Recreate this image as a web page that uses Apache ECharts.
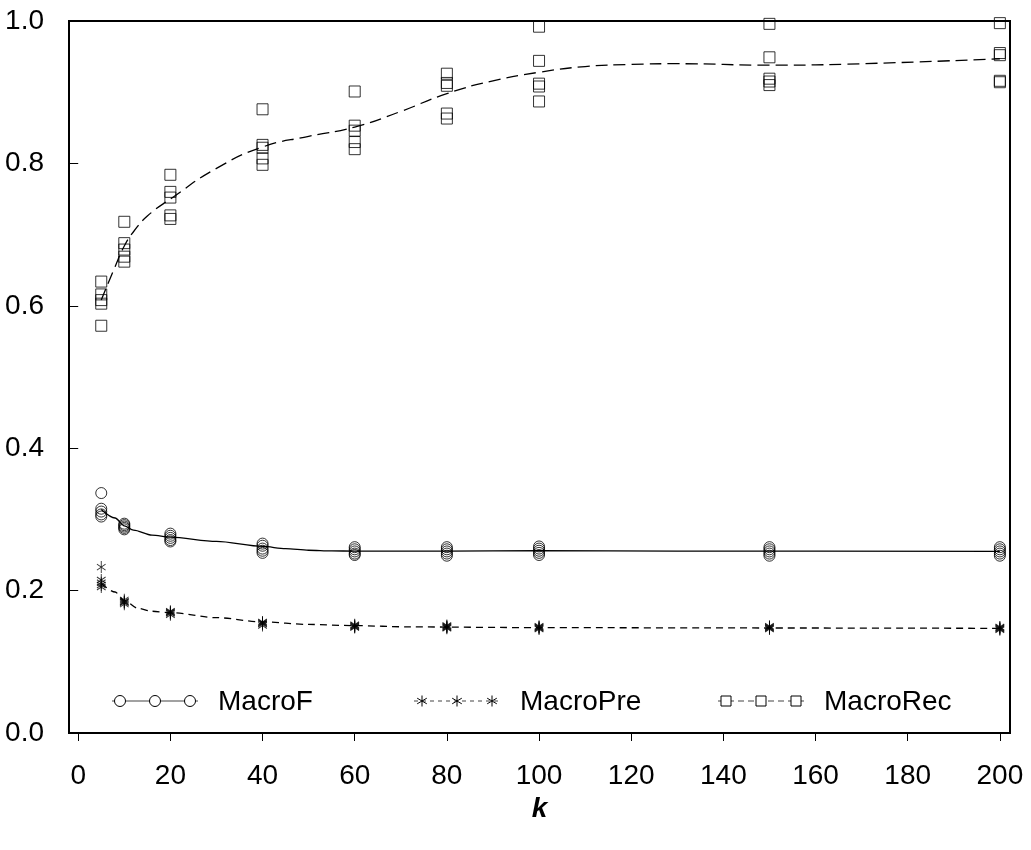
<!DOCTYPE html>
<html>
<head>
<meta charset="utf-8">
<script src="https://cdn.jsdelivr.net/npm/echarts@6/dist/echarts.min.js"></script>
<style>
  html, body { margin: 0; padding: 0; background: #fff; }
  #chart { width: 1031px; height: 850px; }
</style>
</head>
<body>
<div id="chart"></div>
<script>
// Neighbourhood size k used in each run
const kValues = [5, 10, 20, 40, 60, 80, 100, 150, 200];

// Five runs per k, one row per entry of kValues
const macroFRuns = [
  [0.337, 0.315, 0.311, 0.307, 0.304],
  [0.294, 0.292, 0.290, 0.288, 0.286],
  [0.280, 0.277, 0.274, 0.271, 0.269],
  [0.266, 0.263, 0.259, 0.256, 0.253],
  [0.261, 0.258, 0.255, 0.252, 0.250],
  [0.261, 0.258, 0.255, 0.252, 0.249],
  [0.262, 0.259, 0.256, 0.253, 0.250],
  [0.261, 0.258, 0.255, 0.252, 0.249],
  [0.261, 0.258, 0.255, 0.252, 0.249]
];
const macroPreRuns = [
  [0.233, 0.215, 0.211, 0.208, 0.205],
  [0.187, 0.185, 0.184, 0.183, 0.181],
  [0.171, 0.170, 0.169, 0.168, 0.166],
  [0.156, 0.155, 0.154, 0.153, 0.151],
  [0.152, 0.151, 0.150, 0.149, 0.148],
  [0.151, 0.150, 0.149, 0.148, 0.147],
  [0.150, 0.149, 0.148, 0.147, 0.146],
  [0.150, 0.149, 0.148, 0.147, 0.146],
  [0.149, 0.148, 0.147, 0.146, 0.145]
];
const macroRecRuns = [
  [0.634, 0.616, 0.608, 0.603, 0.572],
  [0.718, 0.688, 0.679, 0.669, 0.662],
  [0.784, 0.760, 0.752, 0.727, 0.722],
  [0.876, 0.826, 0.822, 0.807, 0.798],
  [0.901, 0.853, 0.846, 0.830, 0.820],
  [0.926, 0.913, 0.909, 0.870, 0.863],
  [0.992, 0.944, 0.912, 0.908, 0.887],
  [0.996, 0.949, 0.919, 0.915, 0.910],
  [0.997, 0.955, 0.952, 0.916, 0.914]
];

// Smoothed trend curves
const fitKF = [5, 8, 10, 12, 16, 20, 30, 40, 45, 50, 55, 60, 80, 100, 130, 200];
const fitF  = [0.314, 0.302, 0.291, 0.285, 0.278, 0.275, 0.269, 0.262, 0.259, 0.2567, 0.2558, 0.2555, 0.2555, 0.256, 0.2555, 0.255];
const fitKP = [5, 8, 10, 13, 16, 20, 30, 40, 50, 60, 72, 100, 150, 200];
const fitP  = [0.210, 0.198, 0.186, 0.175, 0.171, 0.169, 0.162, 0.156, 0.1525, 0.1508, 0.149, 0.148, 0.1475, 0.147];
const fitKR = [5, 8, 10, 12, 15, 20, 30, 40, 50, 60, 70, 80, 90, 100, 110, 120, 130, 150, 170, 200];
const fitR  = [0.608, 0.655, 0.684, 0.704, 0.726, 0.750, 0.793, 0.823, 0.838, 0.851, 0.873, 0.898, 0.916, 0.928, 0.936, 0.939, 0.940, 0.938, 0.940, 0.947];

// Axis ticks
const xTicks = [0, 20, 40, 60, 80, 100, 120, 140, 160, 180, 200];

const FONT = "'Liberation Sans', Arial, Helvetica, sans-serif";
const starPath = 'path://M0,-6L0,6M-5.2,-3L5.2,3M-5.2,3L5.2,-3';

function runPoints(runs) {
  const pts = [];
  runs.forEach((row, i) => row.forEach(v => pts.push([kValues[i], v])));
  return pts;
}
function curve(ks, vs) {
  return ks.map((k, i) => [k, vs[i]]);
}

const hollow = { color: 'rgba(0,0,0,0)', borderColor: '#000', borderWidth: 1 };

// Legend drawn as line + three markers + label
function legendItem(x, label, marker, dash) {
  const y = 701;
  const children = [{
    type: 'line',
    shape: { x1: x, y1: y, x2: x + 86, y2: y },
    style: { stroke: '#444', lineWidth: 1.2, lineDash: dash }
  }];
  [8, 43, 78].forEach(dx => {
    const cx = x + dx;
    if (marker === 'circle') {
      children.push({ type: 'circle', shape: { cx: cx, cy: y, r: 5.5 },
        style: { fill: '#fff', stroke: '#000', lineWidth: 1 } });
    } else if (marker === 'rect') {
      children.push({ type: 'rect', shape: { x: cx - 5, y: y - 5, width: 10, height: 10 },
        style: { fill: '#fff', stroke: '#000', lineWidth: 1 } });
    } else {
      [[0, -5.5, 0, 5.5], [-4.8, -2.8, 4.8, 2.8], [-4.8, 2.8, 4.8, -2.8]].forEach(s => {
        children.push({ type: 'line', shape: { x1: cx + s[0], y1: y + s[1], x2: cx + s[2], y2: y + s[3] },
          style: { stroke: '#000', lineWidth: 1 } });
      });
    }
  });
  children.push({
    type: 'text', x: x + 106, y: y + 1,
    style: { text: label, fill: '#000', font: '28px ' + FONT, textVerticalAlign: 'middle', textAlign: 'left' }
  });
  return { type: 'group', children: children, z: 10 };
}

const chart = echarts.init(document.getElementById('chart'), null, { renderer: 'canvas' });

chart.setOption({
  backgroundColor: '#fff',
  animation: false,
  grid: {
    left: 69, top: 21, width: 941, height: 712,
    show: true, borderColor: '#000', borderWidth: 2, backgroundColor: 'rgba(0,0,0,0)'
  },
  xAxis: {
    type: 'value', min: -2, max: 202.2, offset: 3,
    name: 'k', nameLocation: 'middle', nameGap: 58,
    nameTextStyle: { fontSize: 28, fontWeight: 'bold', fontStyle: 'italic', color: '#000', fontFamily: FONT },
    axisLine: { show: false },
    axisTick: { show: true, length: 8, customValues: xTicks, lineStyle: { color: '#000', width: 1 } },
    axisLabel: { customValues: xTicks, fontSize: 28, color: '#000', fontFamily: FONT, margin: 26 },
    splitLine: { show: false }
  },
  yAxis: {
    type: 'value', min: 0, max: 1, interval: 0.2,
    axisLine: { show: false },
    axisTick: { show: true, length: 9, lineStyle: { color: '#000', width: 1 } },
    axisLabel: { fontSize: 28, color: '#000', fontFamily: FONT, margin: 25,
      formatter: v => v.toFixed(1) },
    splitLine: { show: false }
  },
  graphic: [
    legendItem(112, 'MacroF', 'circle', null),
    legendItem(414, 'MacroPre', 'star', [4, 4]),
    legendItem(718, 'MacroRec', 'rect', [6, 4])
  ],
  series: [
    {
      name: 'MacroF', type: 'scatter', data: runPoints(macroFRuns),
      symbol: 'circle', symbolSize: 11, itemStyle: hollow, z: 3
    },
    {
      name: 'MacroPre', type: 'scatter', data: runPoints(macroPreRuns),
      symbol: starPath, symbolSize: [10, 12], symbolKeepAspect: true, itemStyle: hollow, z: 3
    },
    {
      name: 'MacroRec', type: 'scatter', data: runPoints(macroRecRuns),
      symbol: 'rect', symbolSize: 11, itemStyle: hollow, z: 3
    },
    {
      name: 'MacroF trend', type: 'line', data: curve(fitKF, fitF),
      showSymbol: false, smooth: 0.3, smoothMonotone: 'x',
      lineStyle: { color: '#000', width: 1.3, type: 'solid' }, z: 2
    },
    {
      name: 'MacroPre trend', type: 'line', data: curve(fitKP, fitP),
      showSymbol: false, smooth: 0.3, smoothMonotone: 'x',
      lineStyle: { color: '#000', width: 1.3, type: [7, 5] }, z: 2
    },
    {
      name: 'MacroRec trend', type: 'line', data: curve(fitKR, fitR),
      showSymbol: false, smooth: 0.5,
      lineStyle: { color: '#000', width: 1.3, type: [12, 6] }, z: 2
    }
  ]
});
</script>
</body>
</html>
